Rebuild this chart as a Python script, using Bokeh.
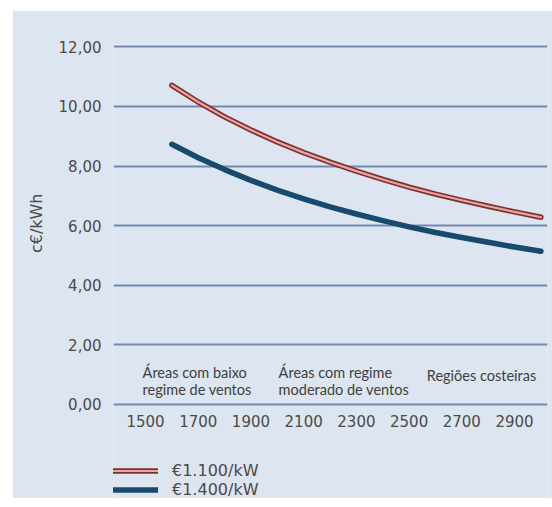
from bokeh.plotting import figure
from bokeh.models import (Range1d, FixedTicker, CustomJSTickFormatter, Legend, LegendItem,
                          Spacer, Title)
from bokeh.layouts import column, row
from bokeh.core.properties import value
from bokeh.embed import file_html
from bokeh.resources import INLINE

# ---- data ----
hours = [1600, 1700, 1800, 1900, 2000, 2100, 2200, 2300, 2400, 2500, 2600, 2700, 2800, 2900, 3000]
cost_1100 = [10.71, 10.15, 9.65, 9.21, 8.81, 8.45, 8.13, 7.83, 7.55, 7.29, 7.06, 6.85, 6.65, 6.46, 6.28]
cost_1400 = [8.73, 8.28, 7.88, 7.52, 7.19, 6.90, 6.63, 6.39, 6.17, 5.96, 5.77, 5.60, 5.44, 5.28, 5.14]
series_labels = ["€1.100/kW", "€1.400/kW"]
x_tick_values = [1500, 1700, 1900, 2100, 2300, 2500, 2700, 2900]
y_tick_values = [0, 2, 4, 6, 8, 10, 12]
y_axis_label = "c€/kWh"
region_texts = ["Áreas com baixo", "regime de ventos", "Áreas com regime",
                "moderado de ventos", "Regiões costeiras"]
region_x = [1489, 1489, 2005, 2005, 2567]
region_y = [1.07, 0.50, 1.07, 0.50, 0.96]

BG = "#dde5f1"
GRID = "#7489b0"
TXT = "#4a4a4a"

p = figure(width=540, height=488, output_backend="svg", toolbar_location=None,
           x_range=Range1d(1378.6, 3025), y_range=Range1d(-3.16, 12.08),
           min_border_left=101, min_border_right=5, min_border_top=34, min_border_bottom=0)
p.background_fill_color = BG
p.border_fill_color = BG
p.outline_line_color = None

# grid
p.xgrid.visible = False
p.ygrid.ticker = FixedTicker(ticks=y_tick_values)
p.ygrid.grid_line_color = GRID
p.ygrid.grid_line_width = 2

# y axis
p.yaxis.ticker = FixedTicker(ticks=y_tick_values)
p.yaxis.formatter = CustomJSTickFormatter(code="return tick.toFixed(2).replace('.', ',');")
p.yaxis.axis_line_color = None
p.yaxis.major_tick_line_color = None
p.yaxis.minor_tick_line_color = None
p.yaxis.major_tick_out = 0
p.yaxis.major_tick_in = 0
p.yaxis.major_label_standoff = 12
p.yaxis.major_label_text_font = "DejaVu Sans"
p.yaxis.major_label_text_font_size = "15px"
p.yaxis.major_label_text_color = TXT

ylab = Title(text=y_axis_label, align="right", offset=149, standoff=20,
             text_font="DejaVu Sans", text_font_size="16px", text_font_style="normal",
             text_color=TXT)
p.add_layout(ylab, "left")

# x axis drawn on the zero line
p.xaxis.fixed_location = 0
p.xaxis.ticker = FixedTicker(ticks=x_tick_values)
p.xaxis.axis_line_color = None
p.xaxis.major_tick_line_color = None
p.xaxis.minor_tick_line_color = None
p.xaxis.major_tick_out = 0
p.xaxis.major_tick_in = 0
p.xaxis.major_label_standoff = 11
p.xaxis.major_label_text_font = "DejaVu Sans"
p.xaxis.major_label_text_font_size = "15px"
p.xaxis.major_label_text_color = TXT

# series
r1a = p.line(hours, cost_1100, line_color="#7e3030", line_width=5.5, line_cap="round", line_join="round")
r1b = p.line(hours, cost_1100, line_color="#e9a6a1", line_width=2.2, line_cap="round", line_join="round")
r2 = p.line(hours, cost_1400, line_color="#184a6e", line_width=5.5, line_cap="round", line_join="round")

# region annotations
p.text(x=region_x, y=region_y, text=region_texts, text_font=value("Lato"),
       text_font_size=value("14.5px"), text_color="#404040", text_align="left",
       text_baseline="middle")

legend = Legend(items=[LegendItem(label=series_labels[0], renderers=[r1a, r1b]),
                       LegendItem(label=series_labels[1], renderers=[r2])],
                location=(0, -1), orientation="vertical")
legend.background_fill_alpha = 0
legend.border_line_color = None
legend.padding = 0
legend.margin = 0
legend.spacing = 0
legend.glyph_width = 45
legend.glyph_height = 19
legend.label_standoff = 14
legend.label_text_font = "DejaVu Sans"
legend.label_text_font_size = "16px"
legend.label_text_color = TXT
p.add_layout(legend, "center")

layout = column(Spacer(height=10), row(Spacer(width=12), p))
open("out.html", "w").write(file_html(layout, INLINE))
